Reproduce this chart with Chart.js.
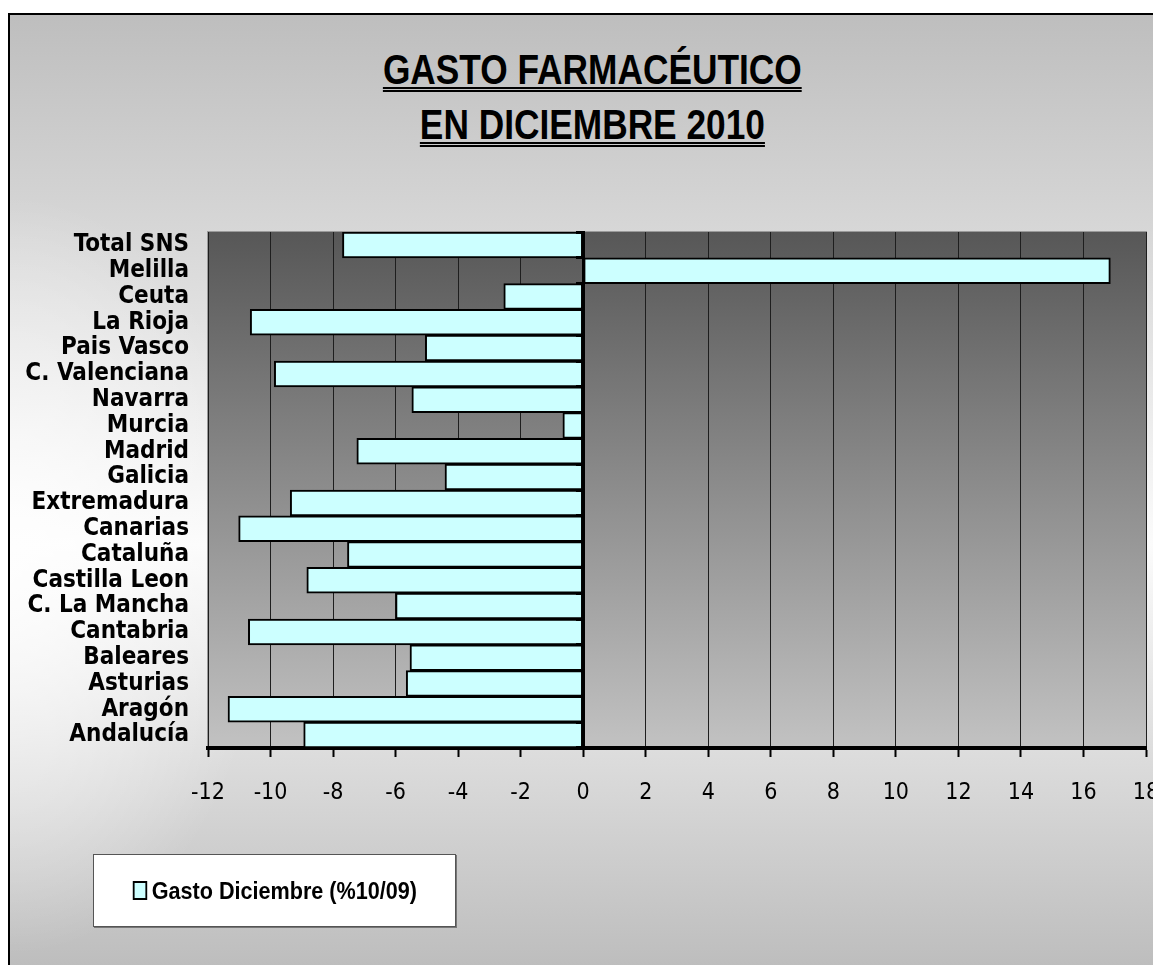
<!DOCTYPE html>
<html>
<head>
<meta charset="utf-8">
<title>Gasto farmacéutico en diciembre 2010</title>
<script src="https://cdn.jsdelivr.net/npm/chart.js@4.4.1/dist/chart.umd.min.js"></script>
<style>
  html, body { margin: 0; padding: 0; background: #fff; overflow: hidden; }
  body { width: 1153px; height: 965px; position: relative; }
  .frame {
    position: absolute; left: 8px; top: 13px; width: 1200px; height: 1000px;
    border-left: 2px solid #000; border-top: 2px solid #000;
    background:
      radial-gradient(ellipse 260px 380px at 0px 560px, rgba(255,255,255,0.85), rgba(255,255,255,0)),
      linear-gradient(to bottom, #bebebe 0px, #fbfbfb 530px, #bcbcbc 960px);
  }
  .title {
    position: absolute; left: 0; width: 1185px; top: 42px; text-align: center;
    font-family: 'Liberation Sans', Arial, sans-serif;
    font-weight: bold; font-size: 42px; line-height: 55px; color: #000;
  }
  .title span {
    display: inline-block; transform: scaleX(0.84);
    text-decoration: underline double; text-decoration-thickness: 2px; text-underline-offset: 3px;
  }
  #chart { position: absolute; left: 0; top: 0; }
  .legend {
    position: absolute; left: 93px; top: 854px; width: 361px; height: 71px;
    background: #fff; border: 1px solid #555; box-shadow: 1px 1px 0 #777;
    display: flex; align-items: center; justify-content: center;
    font-family: 'Liberation Sans', Arial, sans-serif;
    font-weight: bold; font-size: 24px; color: #000;
  }
  .legend .item { display: inline-flex; align-items: center; transform: scaleX(0.9); }
  .legend i {
    display: inline-block; width: 12px; height: 15px; background: #ccffff;
    border: 2px solid #000; margin-right: 5px;
  }
</style>
</head>
<body>
<div class="frame"></div>
<div class="title"><span>GASTO FARMACÉUTICO</span><br><span>EN DICIEMBRE 2010</span></div>
<canvas id="chart" width="1153" height="965"></canvas>
<div class="legend"><span class="item"><i></i>Gasto Diciembre (%10/09)</span></div>
<script>
// categories top to bottom, as in the picture
const categories = ['Total SNS', 'Melilla', 'Ceuta', 'La Rioja', 'Pais Vasco', 'C. Valenciana', 'Navarra',
  'Murcia', 'Madrid', 'Galicia', 'Extremadura', 'Canarias', 'Cataluña', 'Castilla Leon', 'C. La Mancha',
  'Cantabria', 'Baleares', 'Asturias', 'Aragón', 'Andalucía'];
const gastoDiciembre = [-7.70, 16.86, -2.54, -10.65, -5.05, -9.88, -5.48, -0.65, -7.24, -4.42, -9.37,
  -11.02, -7.54, -8.84, -6.00, -10.71, -5.54, -5.66, -11.36, -8.94];
const seriesLabel = 'Gasto Diciembre (%10/09)';
const xMin = -12, xMax = 18, xStep = 2;

const narrow = "'DejaVu Sans Condensed', 'Liberation Sans Narrow', 'Arial Narrow', sans-serif";

// grey gradient behind the bars
const plotBackground = {
  id: 'plotBackground',
  beforeDraw(chart) {
    const { ctx, chartArea: a } = chart;
    const g = ctx.createLinearGradient(0, a.top, 0, a.bottom);
    g.addColorStop(0, '#575757');
    g.addColorStop(1, '#c2c2c2');
    ctx.save();
    ctx.fillStyle = g;
    ctx.fillRect(a.left, a.top, a.right - a.left, a.bottom - a.top);
    ctx.strokeStyle = '#9a9a9a';
    ctx.lineWidth = 1;
    ctx.strokeRect(a.left - 0.5, a.top - 0.5, a.right - a.left + 1, a.bottom - a.top + 1);
    ctx.restore();
  }
};

new Chart(document.getElementById('chart'), {
  type: 'bar',
  data: {
    labels: categories,
    datasets: [{
      label: seriesLabel,
      data: gastoDiciembre,
      backgroundColor: '#ccffff',
      borderColor: '#000',
      borderWidth: 2,
      borderSkipped: false,
      barPercentage: 1,
      categoryPercentage: 1
    }]
  },
  options: {
    indexAxis: 'y',
    responsive: false,
    animation: false,
    devicePixelRatio: 1,
    layout: { padding: { left: 0, top: 232, right: 7, bottom: 117 } },
    plugins: { legend: { display: false }, title: { display: false }, tooltip: { enabled: false } },
    scales: {
      x: {
        type: 'linear', min: xMin, max: xMax,
        // let the last label ("18") run off the right edge, like the original
        afterFit(scale) { scale.height = 100; scale.paddingLeft = 0; scale.paddingRight = 0; },
        ticks: { stepSize: xStep, color: '#000', padding: 22, font: { family: narrow, size: 23 } },
        grid: { color: '#1e1e1e', lineWidth: 1, drawTicks: true, tickLength: 9, tickColor: '#000', tickWidth: 2 },
        border: { display: true, color: '#000', width: 4 }
      },
      y: {
        type: 'category',
        afterFit(scale) { scale.width = 208; },
        ticks: { color: '#000', padding: 19, autoSkip: false, font: { family: narrow, size: 24, weight: 'bold', lineHeight: 1 } },
        grid: { display: false, drawTicks: false },
        border: { display: false }
      },
      // zero line with its small category ticks
      yZero: {
        axis: 'y', type: 'category', position: { x: 0 }, offset: true,
        ticks: { display: false },
        grid: { offset: true, drawOnChartArea: false, drawTicks: true, tickLength: 6, tickColor: '#000', tickWidth: 3, z: 1 },
        border: { display: true, color: '#000', width: 3, z: 1 }
      }
    }
  },
  plugins: [plotBackground]
});
</script>
</body>
</html>
